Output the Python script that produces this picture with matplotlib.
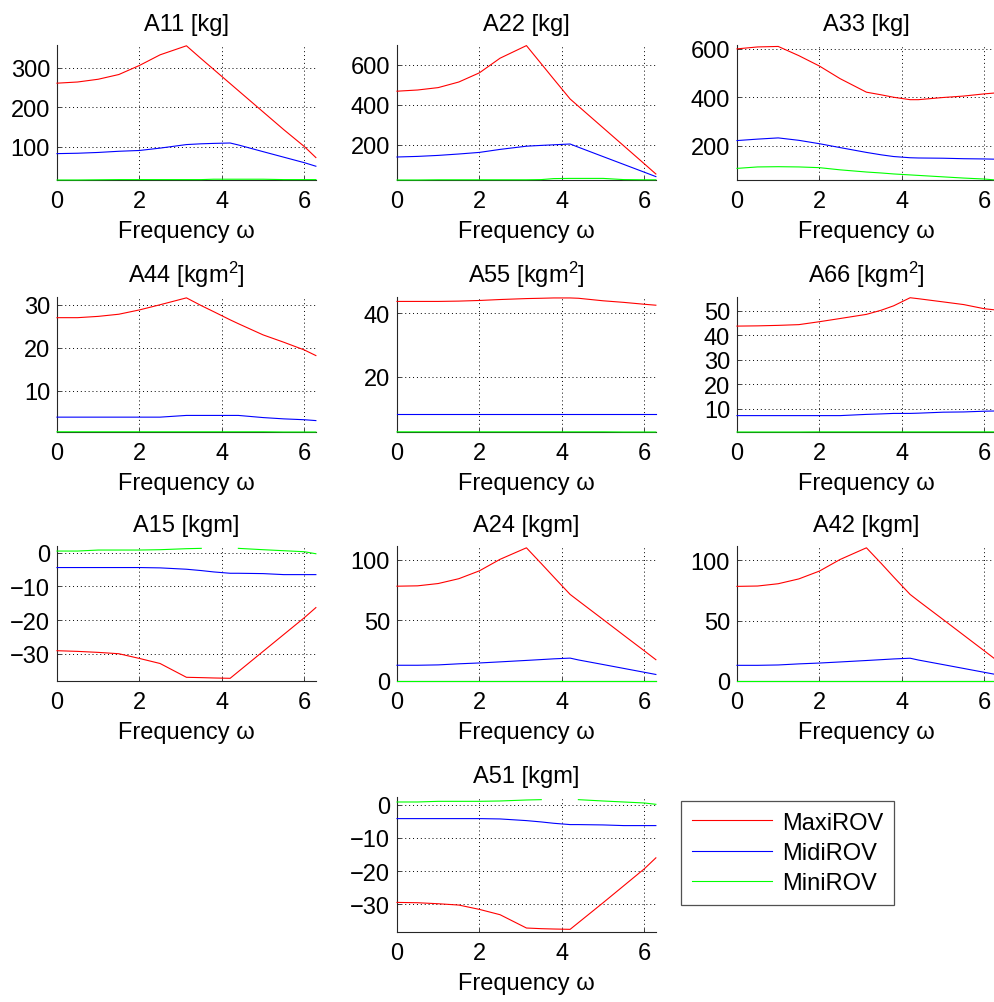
import numpy as np
import matplotlib
matplotlib.use("Agg")
import matplotlib.pyplot as plt
from matplotlib.lines import Line2D

plt.rcParams["font.family"] = ["Liberation Sans", "DejaVu Sans"]
plt.rcParams["mathtext.fontset"] = "custom"
plt.rcParams["mathtext.rm"] = "Liberation Sans"
plt.rcParams["mathtext.it"] = "Liberation Sans"

# Frequency grid [rad/s]
omega = [0, 0.5, 1.0, 1.5, 2.0, 2.5, 3.14, 3.5, 3.8, 4.2, 4.4, 5.0, 5.5, 6.0, 6.28]

nan = np.nan
# Added-mass coefficients: MaxiROV, MidiROV, MiniROV
a11_maxi = [261, 264, 271, 283, 306, 333, 356, 323, 296, 260, 242, 188, 143, 100, 72]
a11_midi = [82, 83, 85, 88, 90, 96, 105, 107, 108, 109, 104, 87, 73, 59, 50]
a11_mini = [15, 15, 15.5, 16, 16, 16, 16, 16, 17, 17, 17, 17, 16, 16, 16]

a22_maxi = [469, 475, 487, 515, 561, 634, 697, 606, 530, 430, 394, 286, 196, 106, 55]
a22_midi = [140, 143, 148, 155, 163, 178, 194, 198, 201, 205, 189, 142, 103, 64, 42]
a22_mini = [25, 25, 26, 26, 26, 26, 26, 27, 32, 33, 33, 33, 27, 26, 26]

a33_maxi = [600, 608, 610, 572, 529, 477, 421, 410, 400, 390, 390, 399, 405, 414, 418]
a33_midi = [221, 227, 232, 222, 208, 192, 172, 162, 155, 150, 149, 148, 146, 145, 144]
a33_mini = [106, 112, 113, 112, 109, 100, 91, 87, 83, 79, 77, 71, 66, 62, 58]

a44_maxi = [27.0, 27.0, 27.3, 27.8, 28.8, 30.0, 31.6, 29.8, 28.4, 26.5, 25.6, 23.0, 21.3, 19.5, 18.2]
a44_midi = [3.9, 3.9, 3.9, 3.9, 3.9, 3.9, 4.3, 4.3, 4.3, 4.3, 4.3, 3.8, 3.5, 3.3, 3.1]
a44_mini = [0.5, 0.5, 0.5, 0.5, 0.5, 0.5, 0.5, 0.5, 0.5, 0.5, 0.5, 0.5, 0.45, 0.45, 0.45]

a55_maxi = [43.8, 43.8, 43.8, 43.9, 44.1, 44.4, 44.7, 44.8, 44.9, 44.9, 44.8, 44.0, 43.5, 42.9, 42.6]
a55_midi = [8.0, 8.0, 8.0, 8.0, 8.0, 8.0, 8.0, 8.0, 8.0, 8.0, 8.0, 8.0, 8.0, 8.0, 8.0]
a55_mini = [2.5, 2.5, 2.5, 2.5, 2.5, 2.5, 2.5, 2.5, 2.5, 2.5, 2.5, 2.5, 2.45, 2.45, 2.45]

a66_maxi = [43.7, 43.8, 44.0, 44.3, 45.5, 46.8, 48.5, 50.2, 52.0, 55.3, 54.9, 53.6, 52.5, 50.8, 50.3]
a66_midi = [7.1, 7.1, 7.1, 7.1, 7.1, 7.1, 7.6, 7.8, 8.0, 8.0, 8.1, 8.5, 8.6, 8.9, 9.0]
a66_mini = [0.4, 0.4, 0.4, 0.4, 0.45, 0.45, 0.45, 0.45, 0.45, 0.45, 0.45, 0.45, 0.45, 0.45, 0.45]

a15_maxi = [-29.1, -29.3, -29.6, -30.0, -31.4, -32.9, -37.0, -37.1, -37.2, -37.3, -35.3, -29.3, -24.3, -19.3, -16.3]
a15_midi = [-4.4, -4.4, -4.4, -4.4, -4.4, -4.5, -4.9, -5.3, -5.7, -6.1, -6.1, -6.2, -6.5, -6.5, -6.5]
a15_mini = [0.5, 0.5, 0.8, 0.8, 0.8, 0.9, 1.2, 1.3, nan, nan, 1.3, 0.9, 0.6, 0.3, -0.3]

a24_maxi = [78.3, 78.6, 80.5, 84.5, 91.0, 100.5, 110.0, 97.0, 86.0, 71.5, 66.3, 50.8, 37.8, 24.9, 17.6]
a24_midi = [13.0, 13.0, 13.3, 14.2, 14.9, 15.8, 17.0, 17.7, 18.3, 18.9, 17.4, 13.6, 10.4, 7.2, 5.4]
a24_mini = [0.3, 0.3, 0.3, 0.3, 0.3, 0.3, 0.3, 0.3, 0.3, 0.3, 0.3, 0.3, 0.3, 0.3, 0.3]

a42_maxi = [78.5, 78.8, 80.7, 84.7, 91.2, 100.8, 110.5, 97.5, 86.3, 71.8, 66.5, 51.0, 38.0, 25.0, 17.7]
a42_midi = [13.0, 13.0, 13.3, 14.2, 14.9, 15.8, 17.0, 17.7, 18.3, 18.9, 17.4, 13.6, 10.4, 7.2, 5.4]
a42_mini = [0.3, 0.3, 0.3, 0.3, 0.3, 0.3, 0.3, 0.3, 0.3, 0.3, 0.3, 0.3, 0.3, 0.3, 0.3]

a51_maxi = [-29.4, -29.5, -29.8, -30.2, -31.5, -33.1, -37.1, -37.3, -37.4, -37.5, -35.5, -29.5, -24.4, -19.3, -16.0]
a51_midi = [-4.2, -4.2, -4.2, -4.2, -4.2, -4.3, -4.8, -5.2, -5.6, -6.0, -6.0, -6.1, -6.3, -6.3, -6.3]
a51_mini = [0.8, 0.8, 1.0, 1.0, 1.0, 1.1, 1.4, 1.5, nan, nan, 1.5, 1.1, 0.8, 0.5, 0.1]

titles = ["A11 [kg]", "A22 [kg]", "A33 [kg]",
          "A44 [kgm$^2$]", "A55 [kgm$^2$]", "A66 [kgm$^2$]",
          "A15 [kgm]", "A24 [kgm]", "A42 [kgm]", "A51 [kgm]"]
series = [(a11_maxi, a11_midi, a11_mini), (a22_maxi, a22_midi, a22_mini),
          (a33_maxi, a33_midi, a33_mini), (a44_maxi, a44_midi, a44_mini),
          (a55_maxi, a55_midi, a55_mini), (a66_maxi, a66_midi, a66_mini),
          (a15_maxi, a15_midi, a15_mini), (a24_maxi, a24_midi, a24_mini),
          (a42_maxi, a42_midi, a42_mini), (a51_maxi, a51_midi, a51_mini)]
yticks = [[100, 200, 300], [200, 400, 600], [200, 400, 600],
          [10, 20, 30], [20, 40], [10, 20, 30, 40, 50],
          [-30, -20, -10, 0], [0, 50, 100], [0, 50, 100], [-30, -20, -10, 0]]
ylims = [(15, 358), (25, 700), (58, 616), (0.45, 31.8), (2.45, 45.2),
         (0.4, 55.6), (-38.1, 2.0), (0, 111.5), (0, 112), (-38.3, 2.3)]
xticks = [0, 2, 4, 6]
labels = ["MaxiROV", "MidiROV", "MiniROV"]
colors = ["#ff0000", "#0000ff", "#00ff00"]

W, H = 995, 1003
fig = plt.figure(figsize=(W / 100, H / 100), dpi=100)

col_left = [57, 397, 737]
row_top = [46, 298, 547, 798]
ax_w, ax_h = 259, 135
cells = [(0, 0), (0, 1), (0, 2), (1, 0), (1, 1), (1, 2),
         (2, 0), (2, 1), (2, 2), (3, 1)]

FS = 17
axes = []
for k, (r, c) in enumerate(cells):
    left = col_left[c] / W
    bottom = 1 - (row_top[r] + ax_h) / H
    ax = fig.add_axes([left, bottom, ax_w / W, ax_h / H])
    for name, ys, col in zip(labels, series[k], colors):
        ax.plot(omega, ys, color=col, lw=0.8, label=name, zorder=3, clip_on=False)
    ax.set_xlim(0, 2 * np.pi)
    ax.set_ylim(*ylims[k])
    ax.set_xticks(xticks)
    ax.set_yticks(yticks[k])
    ax.grid(True, color="black", linestyle=(0, (1, 3)), linewidth=0.7)
    for s in ("top", "right"):
        ax.spines[s].set_visible(False)
    for s in ("left", "bottom"):
        ax.spines[s].set_color("#262626")
        ax.spines[s].set_linewidth(0.8)
    ax.tick_params(direction="in", length=3, width=0.6, labelsize=FS,
                   colors="#262626", labelcolor="black")
    ax.tick_params(axis="x", pad=7)
    ax.tick_params(axis="y", pad=5)
    ax.set_title(titles[k], fontsize=FS, pad=11)
    ax.set_xlabel("Frequency ω", fontsize=FS, labelpad=6)
    axes.append(ax)

handles = [Line2D([], [], color=c, lw=0.8) for c in colors]
leg = fig.legend(handles, labels, loc="upper left",
                 bbox_to_anchor=(681 / W, 1 - 802 / H), bbox_transform=fig.transFigure,
                 borderaxespad=0, fancybox=False, frameon=True, fontsize=FS,
                 handlelength=3.4, handletextpad=0.45, labelspacing=0.35,
                 borderpad=0.45)
leg.get_frame().set_edgecolor("#262626")
leg.get_frame().set_linewidth(0.9)

fig.savefig("out.png", dpi=100, facecolor="white")
